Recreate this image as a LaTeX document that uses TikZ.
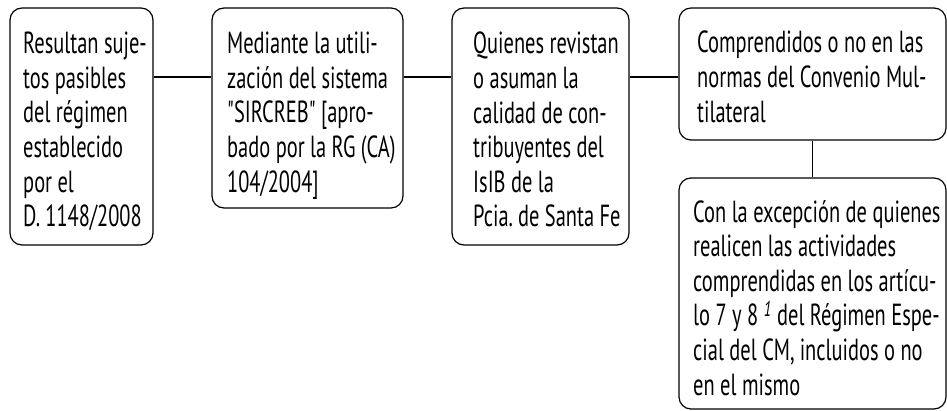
\documentclass[tikz,border=0pt]{standalone}
\usepackage{fontspec}
\setmainfont{PT Sans}[FakeStretch=0.67, Ligatures=TeXOff]
\begin{document}
\begin{tikzpicture}[x=1pt,y=-1pt,
  box/.style={draw, line width=1.2pt, rounded corners=12pt, inner sep=0pt},
  txt/.style={anchor=north west, inner sep=0pt, align=left, font=\fontsize{30.5}{34.6}\selectfont},
  link/.style={line width=1.2pt}]
\useasboundingbox (0,0) rectangle (947,411);
\node[box, minimum width=143pt, minimum height=237pt] (b1) at (81.5,126.5) {};
\node[box, minimum width=191pt, minimum height=200pt] (b2) at (307.5,108) {};
\node[box, minimum width=177pt, minimum height=237pt] (b3) at (540.5,126.5) {};
\node[box, minimum width=267pt, minimum height=132pt] (b4) at (812.5,74) {};
\node[box, minimum width=267pt, minimum height=231pt] (b5) at (812.5,293.5) {};
\node[txt] (t1) at (23,32) {Resultan suje-\\tos pasibles\\del régimen\\establecido\\por el\\D.\,1148/2008};
\node[txt] (t2) at (227,32) {Mediante la utili-\\zación del sistema\\"SIRCREB" [apro-\\bado por la RG (CA)\\104/2004]};
\node[txt] (t3) at (473,32) {Quienes revistan\\o asuman la\\calidad de con-\\tribuyentes del\\IsIB de la\\Pcia.\,de Santa Fe};
\node[txt] (t4) at (697,31) {Comprendidos o no en las\\normas del Convenio Mul-\\tilateral};
\node[txt] (t5) at (693,200) {Con la excepción de quienes\\realicen las actividades\\comprendidas en los artícu-\\lo 7 y 8 \textsuperscript{\textit{1}} del Régimen Espe-\\cial del CM,\,incluidos o no\\en el mismo};
\coordinate (h) at (0,77);
\draw[link] (b1.east |- h) -- (b2.west |- h);
\draw[link] (b2.east |- h) -- (b3.west |- h);
\draw[link] (b3.east |- h) -- (b4.west |- h);
\draw[link] (b4.south) -- (b5.north);
\end{tikzpicture}
\end{document}
